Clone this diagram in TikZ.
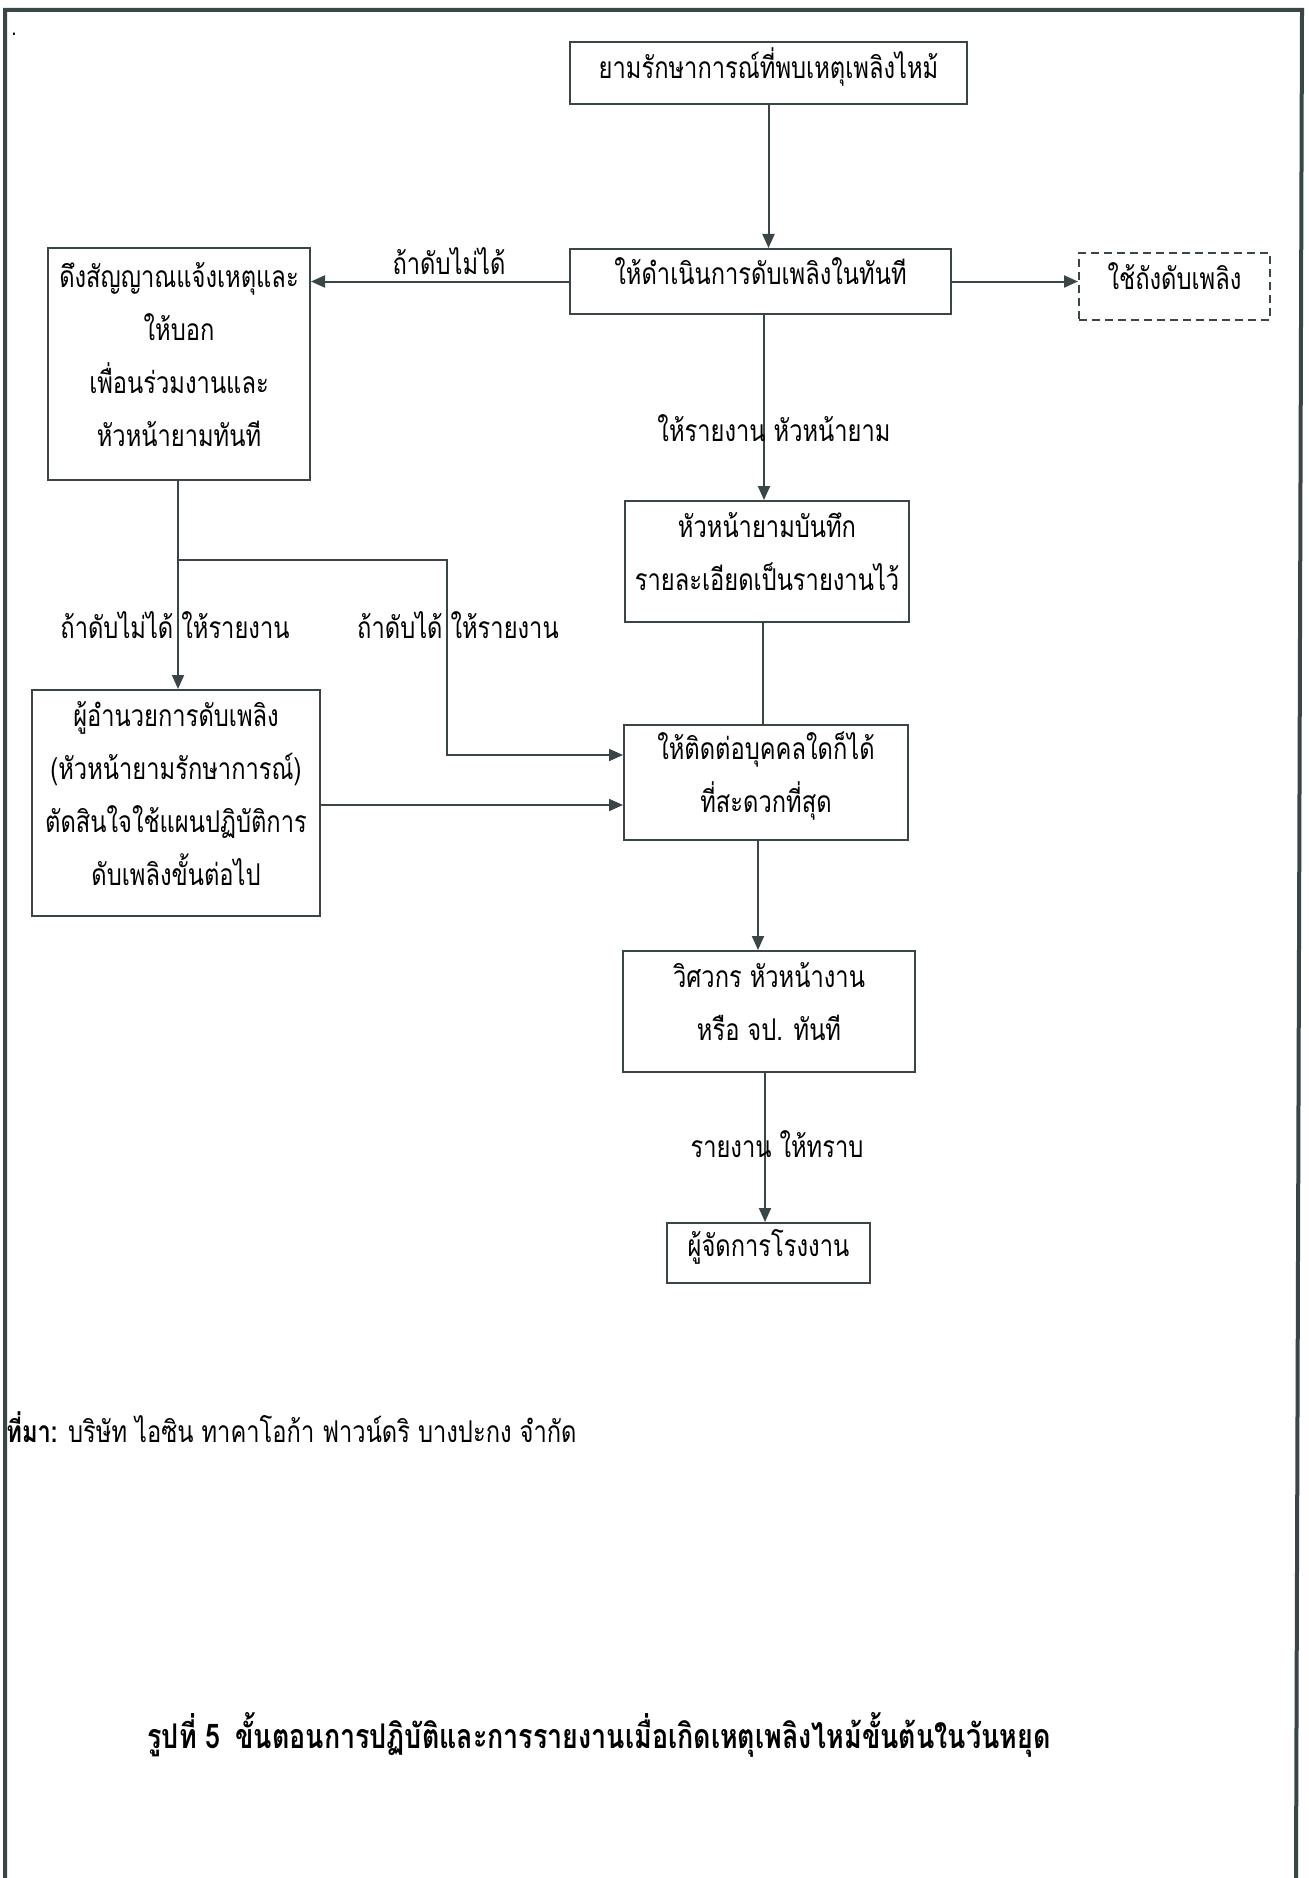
\documentclass[tikz,border=0pt]{standalone}
\usepackage{fontspec}
\setmainfont{Loma}[Script=Thai, FakeStretch=0.79]
\usepackage{xcolor}
\usetikzlibrary{arrows.meta}
\definecolor{lineColor}{HTML}{3A4548}

\begin{document}
\begin{tikzpicture}[x=0.5pt, y=-0.5pt,
    box/.style={draw=lineColor, line width=1pt, align=center, inner sep=0pt,
        font=\fontsize{15}{26.5}\selectfont,
        execute at end node={\rule[-10pt]{0pt}{10pt}}},
    lbl/.style={align=center, inner sep=0pt, font=\fontsize{15}{26.5}\selectfont},
    arr/.style={draw=lineColor, line width=1pt, -{Triangle[length=7pt, width=6pt]}},
    conn/.style={draw=lineColor, line width=1pt}]
    \useasboundingbox (0,0) rectangle (1309,1878);
    % page frame
    \draw[lineColor, line width=2pt] (5,1878) -- (5,10) -- (1302,10) -- (1296,1878);
    \node[font=\fontsize{12}{12}\selectfont] (dot) at (14,34) {.};

    % boxes
    \node[box, minimum width=198.5pt, minimum height=31pt] (guard) at (768.5,73) {ยามรักษาการณ์ที่พบเหตุเพลิงไหม้};
    \node[box, minimum width=190.5pt, minimum height=32.5pt] (act) at (760.5,281.5) {ให้ดำเนินการดับเพลิงในทันที};
    \node[box, dash pattern=on 4pt off 2.5pt, minimum width=95.5pt, minimum height=33.5pt] (tank) at (1174.5,286.5) {ใช้ถังดับเพลิง};
    \node[box, minimum width=131pt, minimum height=116pt] (alarm) at (179,364) {ดึงสัญญาณแจ้งเหตุและ\\ ให้บอก\\ เพื่อนร่วมงานและ\\ หัวหน้ายามทันที};
    \node[box, minimum width=142pt, minimum height=60.5pt] (record) at (767,561.5) {หัวหน้ายามบันทึก\\ รายละเอียดเป็นรายงานไว้};
    \node[box, minimum width=144pt, minimum height=113pt] (chief) at (176,803) {ผู้อำนวยการดับเพลิง\\ (หัวหน้ายามรักษาการณ์)\\ ตัดสินใจใช้แผนปฏิบัติการ\\ ดับเพลิงขั้นต่อไป};
    \node[box, minimum width=142pt, minimum height=57.5pt] (contact) at (766,782.5) {ให้ติดต่อบุคคลใดก็ได้\\ ที่สะดวกที่สุด};
    \node[box, minimum width=146pt, minimum height=60.5pt] (eng) at (769,1011.5) {วิศวกร หัวหน้างาน\\ หรือ จป. ทันที};
    \node[box, minimum width=101.5pt, minimum height=30pt] (mgr) at (768.5,1253) {ผู้จัดการโรงงาน};

    % connectors
    \draw[arr] (guard.south) -- (guard.south |- act.north);
    \draw[arr] (act.west) -- (act.west -| alarm.east);
    \draw[arr] (act.east) -- (act.east -| tank.west);
    \draw[arr] (act.south -| 764,0) -- (record.north -| 764,0);
    \draw[conn] (record.south -| 763,0) -- (contact.north -| 763,0);
    \draw[arr] (contact.south -| 758,0) -- (eng.north -| 758,0);
    \draw[arr] (eng.south -| 765,0) -- (mgr.north -| 765,0);
    \draw[arr] (alarm.south -| 178,0) -- (chief.north -| 178,0);
    \coordinate (split) at (178,560);
    \draw[arr] (split) -- (447,560) -- (447,755) -- (contact.west |- 0,755);
    \draw[arr] (chief.east |- 0,805) -- (contact.west |- 0,805);

    % labels
    \node[lbl] (l1) at (449,261) {ถ้าดับไม่ได้};
    \node[lbl] (l2) at (774,428) {ให้รายงาน หัวหน้ายาม};
    \node[lbl] (l3) at (175,625) {ถ้าดับไม่ได้ ให้รายงาน};
    \node[lbl] (l4) at (458,625) {ถ้าดับได้ ให้รายงาน};
    \node[lbl] (l5) at (777,1144) {รายงาน ให้ทราบ};

    % source and caption
    \node[lbl, anchor=west] (src) at (6,1427) {\textbf{ที่มา:} บริษัท ไอซิน ทาคาโอก้า ฟาวน์ดริ บางปะกง จำกัด};
    \node[lbl, font=\fontsize{17}{22}\selectfont\bfseries] (cap) at (599,1735) {รูปที่ 5\, ขั้นตอนการปฏิบัติและการรายงานเมื่อเกิดเหตุเพลิงไหม้ขั้นต้นในวันหยุด};
\end{tikzpicture}
\end{document}
